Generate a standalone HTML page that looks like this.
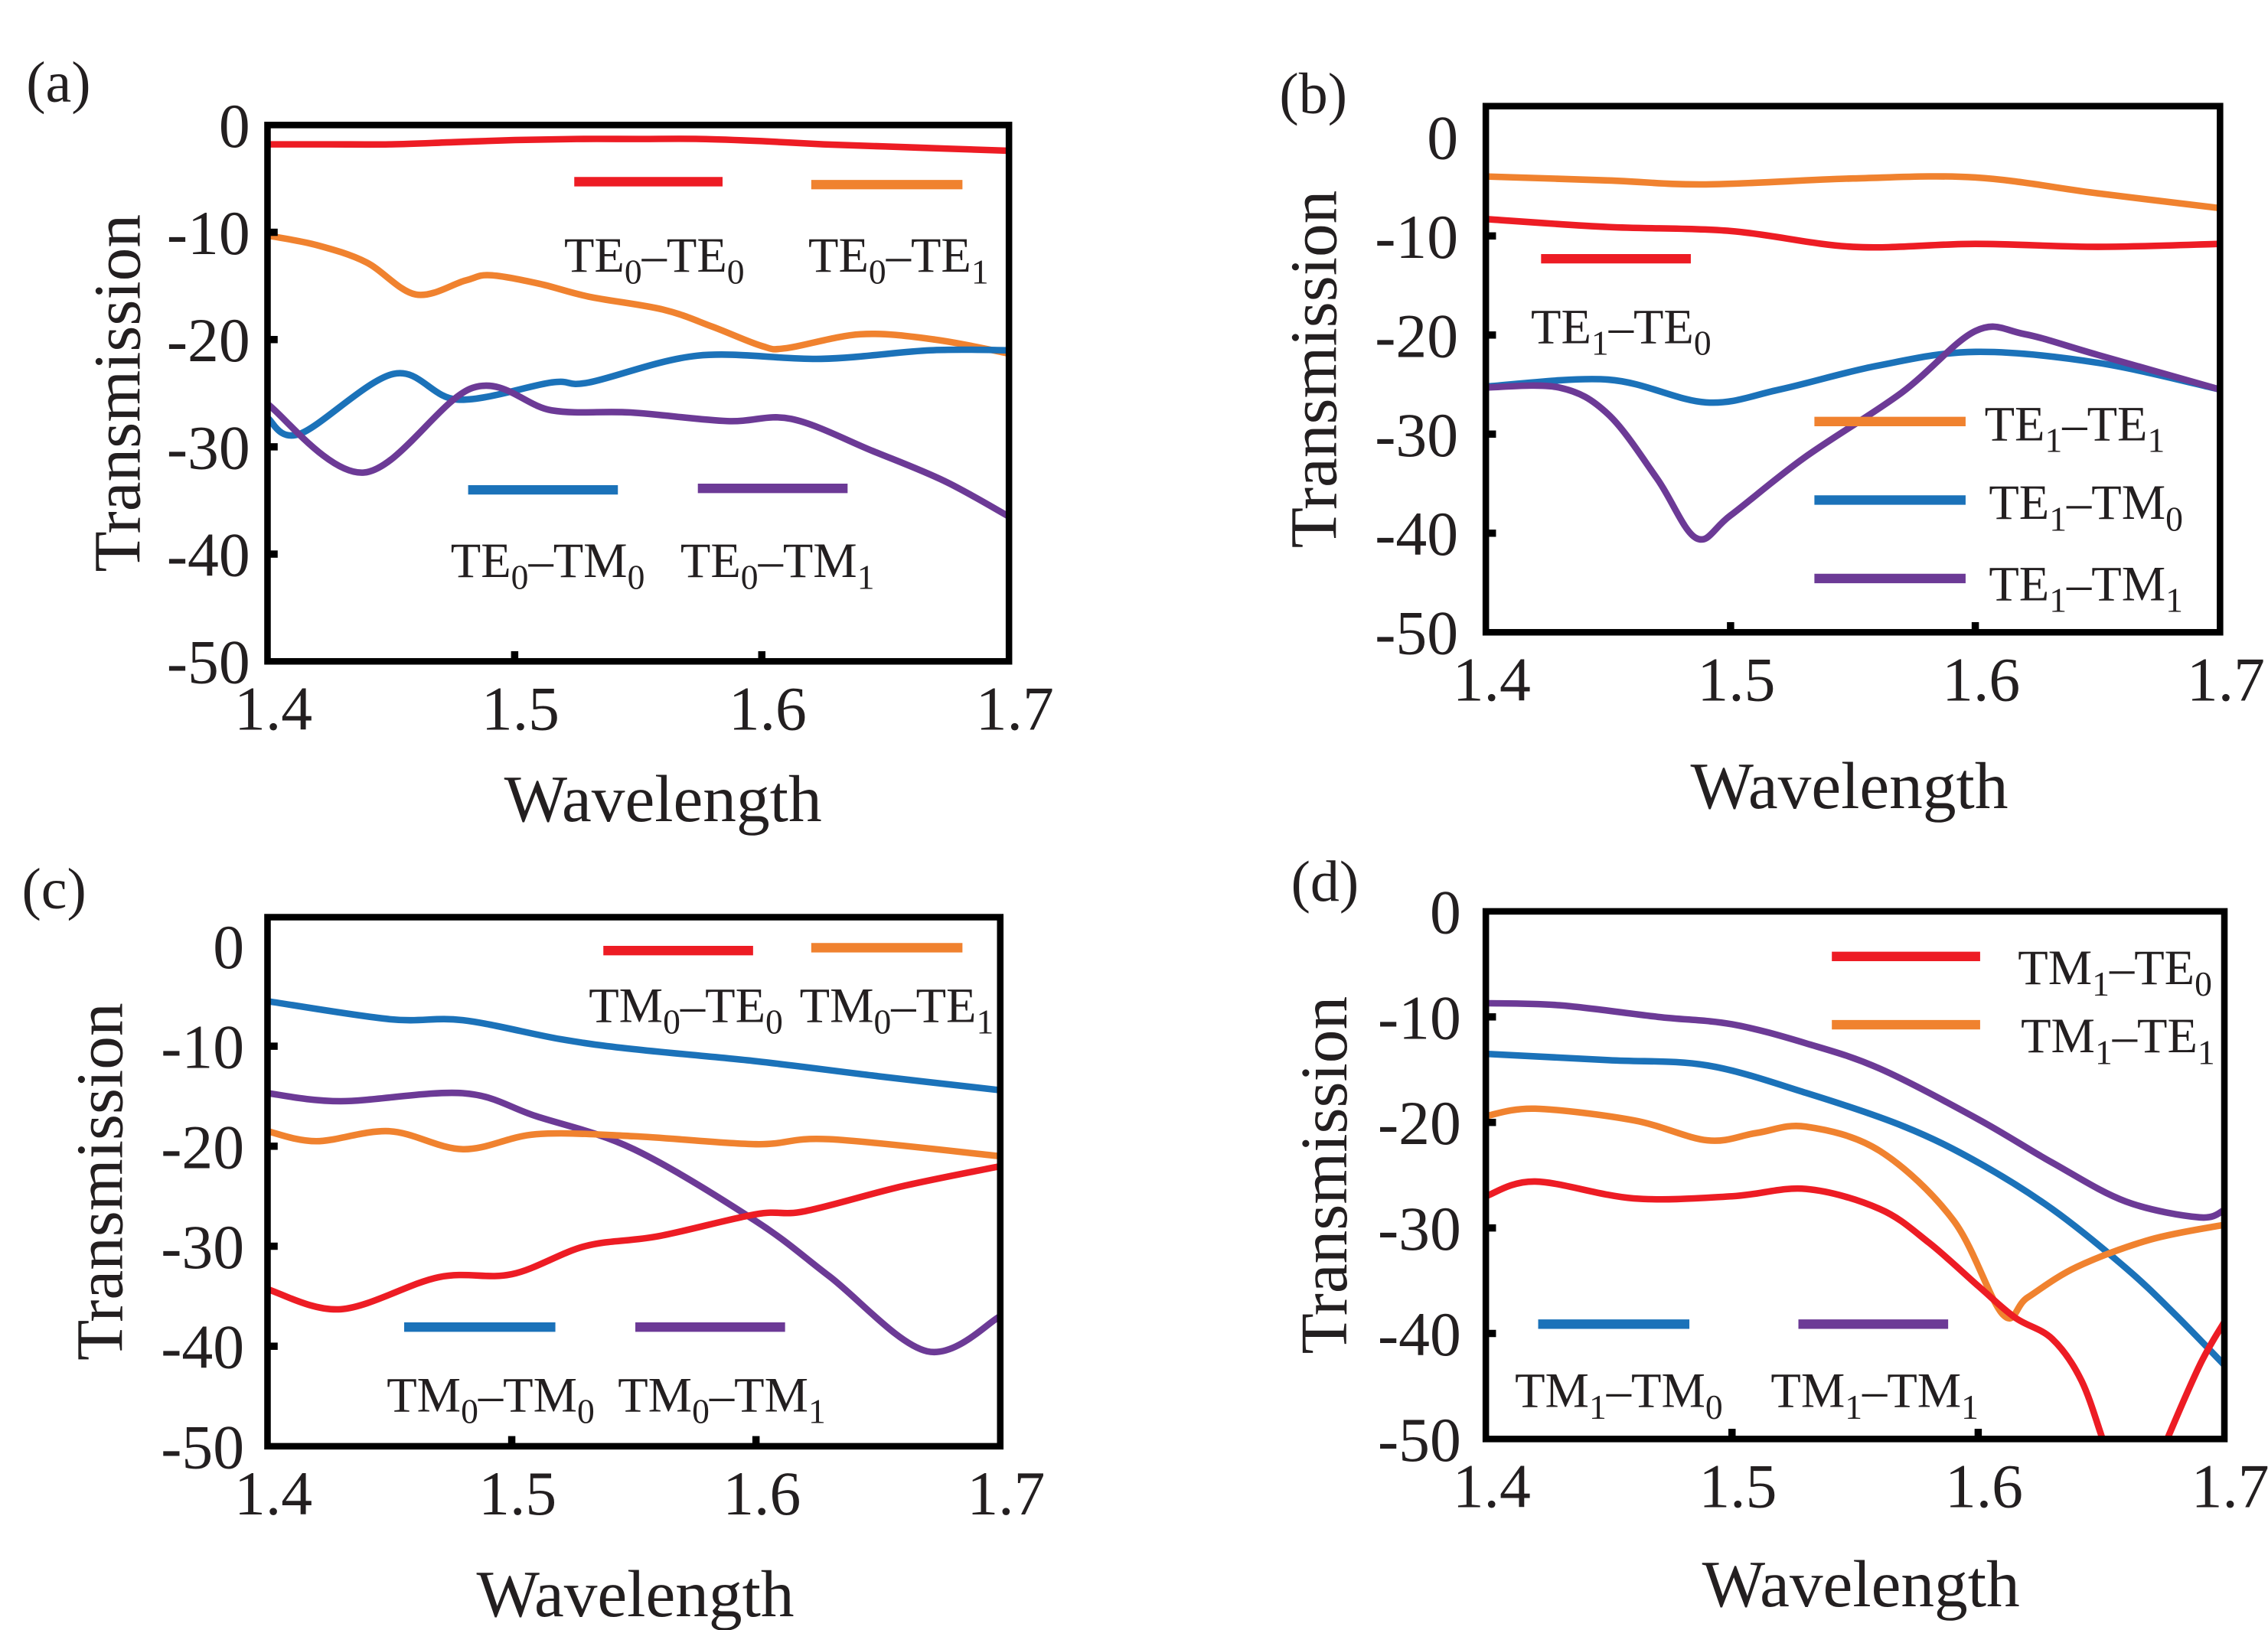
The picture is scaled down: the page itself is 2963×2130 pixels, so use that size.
<!DOCTYPE html>
<html><head><meta charset="utf-8"><style>
html,body{margin:0;padding:0;background:#fff;width:2963px;height:2130px;overflow:hidden}
svg{display:block}
text{font-family:"Liberation Serif",serif;fill:#231f20}
</style></head><body>
<svg id="fig" width="2963" height="2130" viewBox="0 0 1560 1121.4" xmlns="http://www.w3.org/2000/svg"></svg>
<script>
// ---- data (wavelength arrays and transmission values) ----
const xTicks=[1.4,1.5,1.6,1.7];
const xTickLabels=["1.4","1.5","1.6","1.7"];
const yTicks=[0,-10,-20,-30,-40,-50];
const yTickLabels=["0","-10","-20","-30","-40","-50"];

const aRedX=[1.40,1.425,1.45,1.475,1.50,1.525,1.55,1.575,1.60,1.625,1.65,1.675,1.70];
const aRedY=[-1.8,-1.8,-1.8,-1.6,-1.4,-1.3,-1.3,-1.3,-1.5,-1.8,-2.0,-2.2,-2.4];
const aOrgX=[1.40,1.42,1.44,1.46,1.48,1.49,1.51,1.53,1.56,1.58,1.60,1.61,1.64,1.67,1.70];
const aOrgY=[-10.3,-11.2,-12.8,-15.8,-14.5,-14.0,-14.8,-16.0,-17.2,-18.8,-20.6,-20.8,-19.5,-20.0,-21.3];
const aBluX=[1.40,1.413,1.451,1.477,1.515,1.53,1.574,1.624,1.668,1.70];
const aBluY=[-27.3,-28.8,-23.2,-25.6,-24.0,-24.0,-21.5,-21.8,-21.0,-21.0];
const aPurX=[1.40,1.439,1.483,1.515,1.547,1.586,1.612,1.645,1.674,1.70];
const aPurY=[-26.0,-32.4,-24.5,-26.6,-26.8,-27.6,-27.4,-30.4,-33.2,-36.5];

const bOrgX=[1.40,1.45,1.49,1.55,1.60,1.65,1.70];
const bOrgY=[-4.0,-4.4,-4.8,-4.2,-4.1,-5.7,-7.2];
const bRedX=[1.40,1.45,1.50,1.55,1.60,1.65,1.70];
const bRedY=[-8.3,-9.1,-9.5,-11.1,-10.8,-11.1,-10.8];
const bBluX=[1.40,1.45,1.49,1.52,1.56,1.60,1.65,1.70];
const bBluY=[-25.2,-24.5,-26.8,-25.5,-23.1,-21.7,-22.8,-25.5];
const bPurX=[1.40,1.43,1.45,1.47,1.486,1.50,1.53,1.57,1.60,1.62,1.65,1.70];
const bPurY=[-25.3,-25.3,-28.0,-34.5,-40.5,-38.2,-32.4,-25.8,-19.6,-19.9,-22.0,-25.5];

const cBluX=[1.40,1.45,1.48,1.52,1.55,1.60,1.65,1.70];
const cBluY=[-5.5,-7.3,-7.4,-9.3,-10.3,-11.5,-13.0,-14.4];
const cPurX=[1.40,1.43,1.48,1.51,1.55,1.60,1.63,1.67,1.70];
const cPurY=[-14.7,-15.5,-14.7,-17.0,-20.3,-27.5,-33.0,-40.5,-37.0];
const cOrgX=[1.40,1.42,1.45,1.48,1.51,1.55,1.60,1.63,1.70];
const cOrgY=[-18.5,-19.5,-18.5,-20.3,-18.8,-19.0,-19.8,-19.3,-21.0];
const cRedX=[1.40,1.43,1.47,1.50,1.53,1.56,1.60,1.62,1.66,1.70];
const cRedY=[-34.3,-36.3,-33.1,-32.8,-30.0,-29.0,-26.8,-26.5,-24.0,-22.0];

const dPurX=[1.40,1.43,1.47,1.50,1.53,1.56,1.60,1.63,1.66,1.69,1.70];
const dPurY=[-8.7,-8.9,-10.0,-10.7,-12.5,-14.9,-19.7,-23.8,-27.5,-29.0,-28.3];
const dBluX=[1.40,1.45,1.49,1.53,1.57,1.60,1.63,1.66,1.68,1.70];
const dBluY=[-13.5,-14.1,-14.6,-17.2,-20.4,-23.8,-28.2,-33.8,-38.2,-43.0];
const dOrgX=[1.40,1.42,1.46,1.49,1.51,1.53,1.56,1.59,1.61,1.62,1.64,1.67,1.70];
const dOrgY=[-19.4,-18.7,-19.8,-21.7,-21.0,-20.4,-22.7,-29.3,-38.2,-36.6,-33.7,-31.1,-29.7];
const dRedX=[1.40,1.42,1.46,1.50,1.53,1.56,1.58,1.60,1.615,1.63,1.642,1.652,1.663,1.675,1.69,1.70];
const dRedY=[-27.0,-25.6,-27.2,-27.0,-26.3,-28.2,-31.4,-35.5,-38.5,-40.5,-44.5,-51,-58,-51,-43.0,-38.9];

const RED="#ed1c24",ORG="#f0822f",BLU="#1b72b9",PUR="#6c3a96";
const NS="http://www.w3.org/2000/svg";
const svg=document.getElementById('fig');
function mk(tag,attrs,parent){const e=document.createElementNS(NS,tag);for(const k in attrs)e.setAttribute(k,attrs[k]);(parent||svg).appendChild(e);return e;}

const panels=[
 {id:'a',L:184,R:694,T:86,B:455,ytop:0,lab:[18,70],ylx:172,tx:80,wl:[456,565],
  series:[[aRedX,aRedY,RED,'te0-te0'],[aOrgX,aOrgY,ORG,'te0-te1'],[aBluX,aBluY,BLU,'te0-tm0'],[aPurX,aPurY,PUR,'te0-tm1']],
  legend:[[395,497,125,RED,388,187,'TE','0','TE','0'],[558,662,127,ORG,556,187,'TE','0','TE','1'],[322,425,337,BLU,310,397,'TE','0','TM','0'],[480,583,336,PUR,468,397,'TE','0','TM','1']]},
 {id:'b',L:1022,R:1527,T:73,B:435,ytop:3.1,lab:[880,78],ylx:1003,tx:903,wl:[1272,556],
  series:[[bOrgX,bOrgY,ORG,'te1-te1'],[bRedX,bRedY,RED,'te1-te0'],[bBluX,bBluY,BLU,'te1-tm0'],[bPurX,bPurY,PUR,'te1-tm1']],
  legend:[[1060,1163,178,RED,1053,236,'TE','1','TE','0'],[1248,1352,290,ORG,1365,303,'TE','1','TE','1'],[1248,1352,344,BLU,1368,357,'TE','1','TM','0'],[1248,1352,398,PUR,1368,413,'TE','1','TM','1']]},
 {id:'c',L:184,R:688,T:631,B:995,ytop:2.9,lab:[15,625],ylx:168,tx:68,wl:[437,1112],
  series:[[cBluX,cBluY,BLU,'tm0-tm0'],[cPurX,cPurY,PUR,'tm0-tm1'],[cOrgX,cOrgY,ORG,'tm0-te1'],[cRedX,cRedY,RED,'tm0-te0']],
  legend:[[415,518,654,RED,405,703,'TM','0','TE','0'],[558,662,652,ORG,550,703,'TM','0','TE','1'],[278,382,913,BLU,266,971,'TM','0','TM','0'],[437,540,913,PUR,425,971,'TM','0','TM','1']]},
 {id:'d',L:1022,R:1530,T:627,B:990,ytop:0,lab:[888,620],ylx:1005,tx:910,wl:[1280,1105],
  series:[[dPurX,dPurY,PUR,'tm1-tm1'],[dBluX,dBluY,BLU,'tm1-tm0'],[dOrgX,dOrgY,ORG,'tm1-te1'],[dRedX,dRedY,RED,'tm1-te0']],
  legend:[[1260,1362,658,RED,1388,677,'TM','1','TE','0'],[1260,1362,705,ORG,1390,724,'TM','1','TE','1'],[1058,1162,911,BLU,1042,968,'TM','1','TM','0'],[1237,1340,911,PUR,1218,968,'TM','1','TM','1']]}
];

function smooth(pts){
 let d='M'+pts[0][0].toFixed(2)+','+pts[0][1].toFixed(2);
 for(let i=0;i<pts.length-1;i++){
  const p0=pts[Math.max(0,i-1)],p1=pts[i],p2=pts[i+1],p3=pts[Math.min(pts.length-1,i+2)];
  const c1=[p1[0]+(p2[0]-p0[0])/6,p1[1]+(p2[1]-p0[1])/6];
  const c2=[p2[0]-(p3[0]-p1[0])/6,p2[1]-(p3[1]-p1[1])/6];
  d+=' C'+c1.join(',')+' '+c2.join(',')+' '+p2.join(',');
 }
 return d;
}

panels.forEach(p=>{
 const g=mk('g',{});
 
 
 const xs=v=>p.L+(v-1.4)/0.3*(p.R-p.L);
 const ys=v=>p.T+(p.ytop-v)/(p.ytop+50)*(p.B-p.T);
 const cp=mk('clipPath',{id:'clip'+p.id},g);
 mk('rect',{x:p.L,y:p.T,width:p.R-p.L,height:p.B-p.T},cp);
 const pl=mk('text',{x:p.lab[0],y:p.lab[1],'font-size':40},g);
 pl.textContent='('+p.id+')';
 
 
 const sg=mk('g',{'clip-path':'url(#clip'+p.id+')'},g);
 p.series.forEach(s=>{
  const pts=s[0].map((x,i)=>[xs(x),ys(s[1][i])]);
  const path=mk('path',{d:smooth(pts),fill:'none',stroke:s[2],'stroke-width':4.5,'stroke-linejoin':'round'},sg);
  
  
 });
 p.legend.forEach(l=>{
  const ln=mk('line',{x1:l[0],x2:l[1],y1:l[2],y2:l[2],stroke:l[3],'stroke-width':6.5},g);
  
  
  const t=mk('text',{x:l[4],y:l[5],'font-size':34,'clip-path':'url(#clip'+p.id+')'},g);
  
  
  const a=mk('tspan',{},t);a.textContent=l[6];
  const b=mk('tspan',{dy:8,'font-size':24},t);b.textContent=l[7];
  const c=mk('tspan',{dy:-8},t);c.textContent='\u2013'+l[8];
  const d=mk('tspan',{dy:8,'font-size':24},t);d.textContent=l[9];
 });
 const box=mk('rect',{x:p.L,y:p.T,width:p.R-p.L,height:p.B-p.T,fill:'none',stroke:'#000','stroke-width':4.5},g);
 
 
 yTicks.forEach((v,i)=>{
  const y=ys(v);
  if(v>-50&&v<0){mk('line',{x1:p.L,x2:p.L+7,y1:y,y2:y,stroke:'#000','stroke-width':5},g);}
  const t=mk('text',{x:p.ylx,y:y+15,'font-size':43,'text-anchor':'end'},g);
  t.textContent=yTickLabels[i];
  
  
 });
 xTicks.forEach((v,i)=>{
  const x=xs(v);
  if(v>1.4&&v<1.7){mk('line',{x1:x,x2:x,y1:p.B,y2:p.B-7,stroke:'#000','stroke-width':5},g);}
  const t=mk('text',{x:x+4,y:p.B+47,'font-size':43,'text-anchor':'middle'},g);
  t.textContent=xTickLabels[i];
  
  
 });
 const yt=mk('text',{x:p.tx,y:(p.T+p.B)/2,'font-size':46,'text-anchor':'middle',transform:'rotate(-90 '+p.tx+' '+((p.T+p.B)/2)+')',dy:16},g);
 yt.textContent='Transmission';
 
 
 const xt=mk('text',{x:p.wl[0],y:p.wl[1],'font-size':46,'text-anchor':'middle'},g);
 xt.textContent='Wavelength';
 
 
});
</script>
</body></html>
